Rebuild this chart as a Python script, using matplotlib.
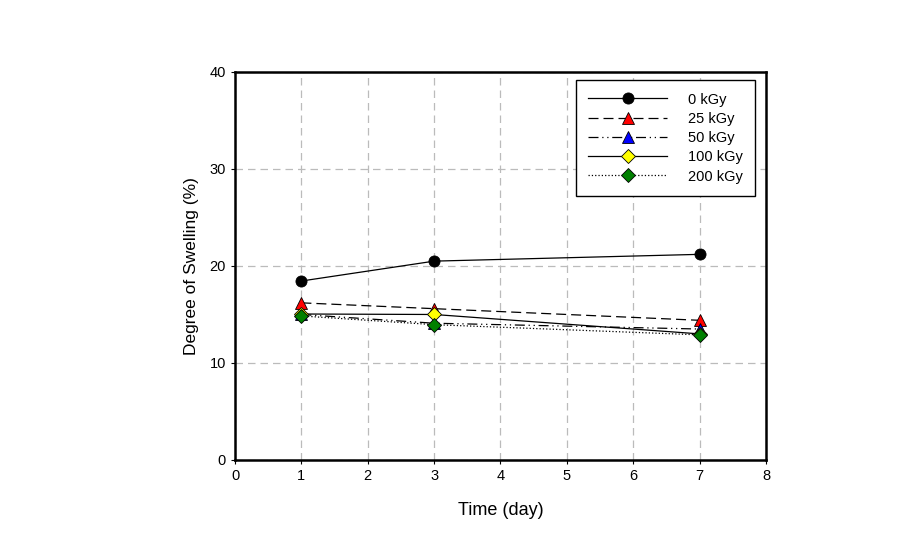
import matplotlib
matplotlib.use("Agg")
import matplotlib.pyplot as plt

plt.rcParams["font.family"] = ["Liberation Sans", "DejaVu Sans"]

days = [1, 3, 7]
swell_0 = [18.45, 20.5, 21.2]
swell_25 = [16.2, 15.6, 14.4]
swell_50 = [15.0, 14.1, 13.5]
swell_100 = [15.05, 15.0, 13.0]
swell_200 = [14.85, 13.95, 12.9]

series = [
    ("0 kGy", swell_0, "-", "o", "black", 8),
    ("25 kGy", swell_25, (0, (8, 4)), "^", "red", 8),
    ("50 kGy", swell_50, (0, (8, 3, 1, 3, 1, 3)), "^", "blue", 8),
    ("100 kGy", swell_100, "-", "D", "yellow", 7),
    ("200 kGy", swell_200, ":", "D", "green", 7),
]

fig = plt.figure(figsize=(9.17, 5.34), dpi=100)
ax = fig.add_axes([0.2563, 0.1386, 0.579, 0.7266])

for label, vals, ls, mk, fc, ms in series:
    ax.plot(days, vals, linestyle=ls, color="black", linewidth=0.9,
            marker=mk, markersize=ms, markerfacecolor=fc,
            markeredgecolor="black", markeredgewidth=0.6, label=label)

ax.set_xlim(0, 8)
ax.set_ylim(0, 40)
ax.set_xticks(range(0, 9))
ax.set_yticks([0, 10, 20, 30, 40])
ax.grid(True, color="#bbbbbb", linestyle=(0, (6, 4)), linewidth=0.9)
ax.set_axisbelow(True)
for sp in ax.spines.values():
    sp.set_linewidth(1.8)
ax.tick_params(direction="out", length=3, width=0.8, labelsize=10.5)
ax.set_xlabel("Time (day)", fontsize=13, labelpad=14)
ax.set_ylabel("Degree of Swelling (%)", fontsize=12.5, labelpad=8)

leg = ax.legend(loc="upper right", bbox_to_anchor=(0.979, 0.979),
                fontsize=10.5, handlelength=5.4, handletextpad=1.4,
                labelspacing=0.36, fancybox=False, framealpha=1,
                edgecolor="black", borderpad=0.85, borderaxespad=0)
leg.get_frame().set_linewidth(1.0)

fig.savefig("out.png", dpi=100)
